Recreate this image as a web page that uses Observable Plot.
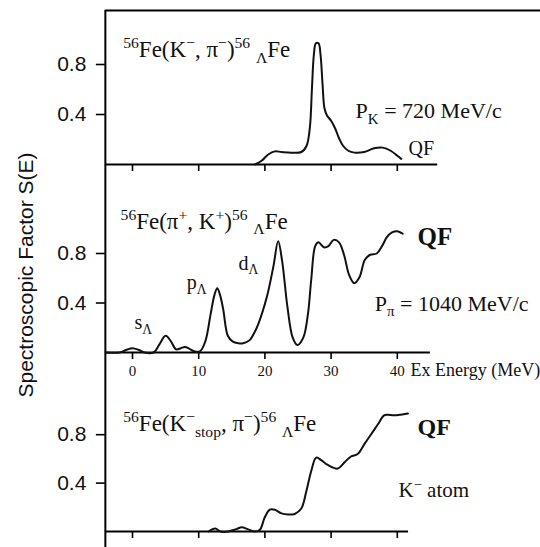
<!DOCTYPE html>
<html>
<head>
<meta charset="utf-8">
<script src="https://cdn.jsdelivr.net/npm/d3@7"></script>
<script src="https://cdn.jsdelivr.net/npm/@observablehq/plot@0.6"></script>
<style>
  body { margin: 0; background: #fff; }
  #chart { position: relative; width: 540px; height: 547px; overflow: hidden; background: #fff; }
  #chart svg { display: block; }
  #ytitle {
    position: absolute; left: 26px; top: 275px;
    transform: translate(-50%, -50%) rotate(-90deg);
    white-space: nowrap; font: 21px "Liberation Sans", Arial, sans-serif; color: #111;
  }
</style>
</head>
<body>
<div id="chart"><div id="ytitle">Spectroscopic Factor S(E)</div></div>
<script>
// Excitation-energy ticks (MeV) and spectroscopic-factor ticks
const energyTicks = [0, 10, 20, 30, 40];
const energyTickLabels = ["0", "10", "20", "30", "40"];
const sTicks = [0.4, 0.8];
const sTickLabels = ["0.4", "0.8"];

// 56Fe(K-, pi-) at 720 MeV/c : [Ex (MeV), S(E)]
const kaonInFlight = [
  [18.5, 0.0], [19.5, 0.03], [20.5, 0.08], [21.5, 0.105], [22.5, 0.1], [24, 0.095],
  [25.5, 0.1], [26.3, 0.15], [26.8, 0.3], [27.1, 0.6], [27.4, 0.88], [27.7, 0.97],
  [28.1, 0.97], [28.4, 0.88], [28.7, 0.65], [29.0, 0.45], [29.4, 0.39], [30.0, 0.35],
  [30.6, 0.29], [31.2, 0.21], [31.8, 0.15], [32.6, 0.11], [33.5, 0.095], [35, 0.1],
  [36.5, 0.13], [37.8, 0.135], [39, 0.11], [40, 0.07], [40.6, 0.045]
];

// 56Fe(pi+, K+) at 1040 MeV/c
const pionInFlight = [
  [-4.0, 0], [-2, 0], [-1, 0.02], [0, 0.035], [1, 0.02], [1.8, 0], [3.2, 0], [4.0, 0.06],
  [5.0, 0.135], [5.8, 0.09], [6.6, 0.025], [7.3, 0.035], [7.9, 0.045], [8.6, 0.03],
  [9.3, 0.01], [10.2, 0.01], [11.0, 0.09], [11.8, 0.31], [12.4, 0.47], [12.8, 0.52],
  [13.2, 0.47], [13.7, 0.35], [14.4, 0.135], [15.1, 0.09], [16.0, 0.075], [16.7, 0.075],
  [17.7, 0.1], [18.4, 0.16], [19.0, 0.23], [20.3, 0.45], [21.3, 0.7], [22.0, 0.9],
  [22.6, 0.74], [23.4, 0.37], [24.2, 0.12], [24.9, 0.06], [25.8, 0.12], [26.5, 0.31],
  [27.0, 0.59], [27.6, 0.86], [28.1, 0.89], [28.9, 0.85], [29.6, 0.86], [30.4, 0.91],
  [31.2, 0.89], [32.0, 0.78], [32.7, 0.63], [33.5, 0.56], [34.3, 0.61], [35.1, 0.75],
  [35.9, 0.79], [36.9, 0.8], [37.7, 0.86], [38.4, 0.93], [39.2, 0.97], [40.0, 0.98],
  [40.8, 0.96]
];

// 56Fe(K-stop, pi-) from the K- atom
const kaonStopped = [
  [11.5, 0], [12.5, 0.025], [13.3, 0.0], [14.5, 0.0], [15.7, 0.02], [16.5, 0.035],
  [17.4, 0.02], [18.5, 0.0], [19.25, 0.015], [20, 0.12], [20.75, 0.18], [21.5, 0.18],
  [22.5, 0.15], [23.5, 0.14], [24.5, 0.145], [25.5, 0.19], [26.25, 0.33], [27, 0.5],
  [27.75, 0.61], [28.5, 0.59], [29.5, 0.55], [31, 0.52], [32, 0.57], [33, 0.62],
  [34, 0.64], [35, 0.72], [36, 0.8], [37, 0.88], [38, 0.96], [38.5, 0.965],
  [39.5, 0.96], [40.5, 0.965], [41.6, 0.975]
];

// Rich-text annotations: segments of [text, "sup" | "sub" | undefined]
const topTitle = [["56", "sup"], ["Fe(K"], ["−", "sup"], [", π"], ["−", "sup"], [")"], ["56", "sup"], [" "], ["Λ", "sub"], ["Fe"]];
const midTitle = [["56", "sup"], ["Fe(π"], ["+", "sup"], [", K"], ["+", "sup"], [")"], ["56", "sup"], [" "], ["Λ", "sub"], ["Fe"]];
const botTitle = [["56", "sup"], ["Fe(K"], ["−", "sup"], ["stop", "sub"], [", π"], ["−", "sup"], [")"], ["56", "sup"], [" "], ["Λ", "sub"], ["Fe"]];

// Horizontal layout: the energy axis shares one pixel mapping across panels
const X0_PX = 132, PX_PER_MEV = 6.62, W = 540;
const xDomain = [-X0_PX / PX_PER_MEV, (W - X0_PX) / PX_PER_MEV];
const X_MIN = -4.1; // left frame edge (MeV)

const plain = segs => segs.map(s => s[0]).join("");

// Rebuild each annotation <text> with tspans for super- and subscripts
function richText(svg, labels) {
  const texts = Array.from(svg.querySelectorAll("text"));
  for (const lab of labels) {
    const el = texts.find(t => !t.__rich && t.textContent === plain(lab.segs));
    if (!el) continue;
    el.__rich = true;
    const fs = lab.size;
    const t = d3.select(el).text("");
    if (lab.weight) t.attr("font-weight", lab.weight);
    let cur = 0;
    for (const [str, kind] of lab.segs) {
      const shift = kind === "sup" ? -0.4 * fs : kind === "sub" ? 0.24 * fs : 0;
      t.append("tspan")
        .attr("dy", shift - cur)
        .attr("font-size", kind ? fs * 0.68 : fs)
        .text(str);
      cur = shift;
    }
  }
}

function panel({height, zero, ppu, data, baseEnd, border, labels, tickLabels}) {
  const yDomain = [-(height - zero) / ppu, zero / ppu];
  const tickLen = 7 / ppu;
  const yTickLen = 9 / PX_PER_MEV;
  const marks = [
    Plot.ruleX([X_MIN], {y1: yDomain[0], y2: border ?? yDomain[1], strokeWidth: 2}),
    Plot.ruleY([0], {x1: X_MIN, x2: baseEnd, strokeWidth: 2}),
    Plot.ruleX(energyTicks, {x: d => d, y1: 0, y2: -tickLen, strokeWidth: 1.6}),
    Plot.ruleY(sTicks, {y: d => d, x1: X_MIN - yTickLen, x2: X_MIN, strokeWidth: 1.6}),
    Plot.text(sTicks, {
      x: X_MIN, y: d => d, text: (d, i) => sTickLabels[i], textAnchor: "end", dx: -19,
      lineAnchor: "middle", fontSize: 21, fontFamily: "Liberation Sans, Arial, sans-serif", fill: "#111"
    }),
    Plot.line(data, {x: d => d[0], y: d => d[1], curve: "catmull-rom", strokeWidth: 2, stroke: "#111"}),
    Plot.text(labels, {
      x: "x", y: "y", text: d => plain(d.segs), fontSize: "size",
      textAnchor: "start", lineAnchor: "bottom", fontFamily: "Liberation Serif, Times New Roman, serif",
      fill: "#111"
    })
  ];
  if (border !== undefined) {
    marks.push(Plot.ruleY([border], {x1: X_MIN, x2: xDomain[1], strokeWidth: 2}));
  }
  if (tickLabels) {
    marks.push(Plot.text(energyTicks, {
      x: d => d, y: -0.19, text: (d, i) => energyTickLabels[i], textAnchor: "middle", lineAnchor: "bottom",
      fontSize: 15, fontFamily: "Liberation Serif, Times New Roman, serif", fill: "#111"
    }));
    marks.push(Plot.text(["Ex Energy (MeV)"], {
      x: 42.0, y: -0.19, text: d => d, textAnchor: "start", lineAnchor: "bottom",
      fontSize: 18, fontFamily: "Liberation Serif, Times New Roman, serif", fill: "#111"
    }));
  }
  const svg = Plot.plot({
    width: W, height, margin: 0,
    x: {domain: xDomain, axis: null},
    y: {domain: yDomain, axis: null},
    style: {background: "none", overflow: "visible"},
    marks
  });
  richText(svg, labels);
  return svg;
}

const chart = document.getElementById("chart");

chart.appendChild(panel({
  height: 185, zero: 164, ppu: 125, data: kaonInFlight, baseEnd: 46.1, border: 1.232,
  labels: [
    {x: -1.4, y: 0.86, size: 23, segs: topTitle},
    {x: 33.7, y: 0.37, size: 22, segs: [["P"], ["K", "sub"], [" = 720 MeV/c"]]},
    {x: 41.7, y: 0.08, size: 20, segs: [["QF"]]}
  ]
}));

chart.appendChild(panel({
  height: 210, zero: 167, ppu: 123.75, data: pionInFlight, baseEnd: 45.0, tickLabels: true,
  labels: [
    {x: -1.8, y: 1.0, size: 23, segs: midTitle},
    {x: 43.05, y: 0.87, size: 25, weight: "bold", segs: [["QF"]]},
    {x: 36.6, y: 0.338, size: 22, segs: [["P"], ["π", "sub"], [" = 1040 MeV/c"]]},
    {x: 0.3, y: 0.19, size: 20, segs: [["s"], ["Λ", "sub"]]},
    {x: 8.2, y: 0.51, size: 20, segs: [["p"], ["Λ", "sub"]]},
    {x: 16.0, y: 0.67, size: 20, segs: [["d"], ["Λ", "sub"]]}
  ]
}));

chart.appendChild(panel({
  height: 152, zero: 136, ppu: 121, data: kaonStopped, baseEnd: 41.7,
  labels: [
    {x: -1.4, y: 0.83, size: 23, segs: botTitle},
    {x: 43.05, y: 0.80, size: 24, weight: "bold", segs: [["QF"]]},
    {x: 40.2, y: 0.284, size: 21, segs: [["K"], ["−", "sup"], [" atom"]]}
  ]
}));
</script>
</body>
</html>
